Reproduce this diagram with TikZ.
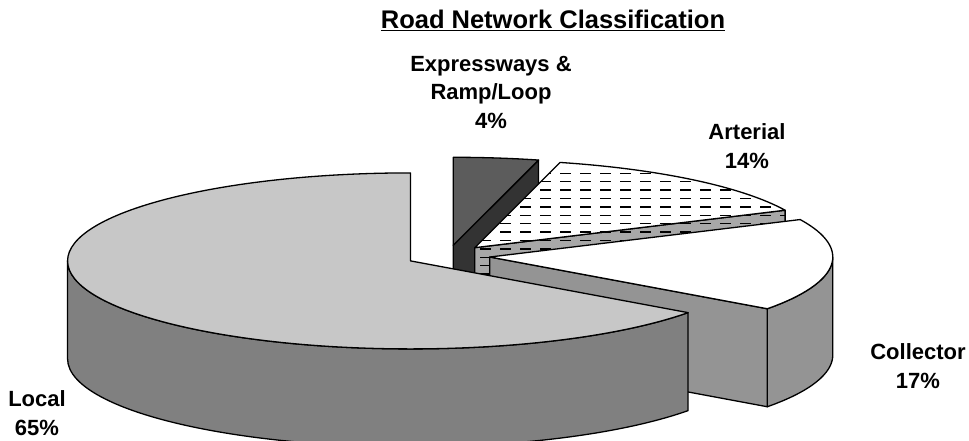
\documentclass[tikz,border=0pt]{standalone}
\usepackage{fontspec}
\setmainfont{Liberation Sans}
\usetikzlibrary{calc}

\definecolor{localtop}{gray}{0.78}
\definecolor{localside}{gray}{0.5}
\definecolor{exptop}{gray}{0.36}
\definecolor{expside}{gray}{0.2}
\definecolor{artside}{gray}{0.66}
\definecolor{colside}{gray}{0.58}

\begin{document}
\begin{tikzpicture}[x=1pt,y=1pt,
    face/.style={draw=black, line width=1.3pt, line join=round},
    dashfill/.style={path picture={
      \foreach \y in {266.7,258.3,...,80}
        \draw[black, line width=1.4pt, dash pattern=on 11pt off 9pt] (300,\y) -- (820,\y);}},
    lbl/.style={align=center, anchor=base, font=\fontsize{22}{28.5}\selectfont\bfseries},
    titlelbl/.style={anchor=base, font=\fontsize{25.5}{30}\selectfont\bfseries}]
  \useasboundingbox (0,0) rectangle (969,440);
  \clip (0,0) rectangle (969,440);

  % centre of the pie and the exploded apex of each slice
  \coordinate (ctr) at (448,184);
  \coordinate (expA) at ($(ctr)+(82.8:42 and 10.8)$);
  \coordinate (artA) at ($(ctr)+(50.4:42 and 10.8)$);
  \coordinate (colA) at ($(ctr)+(-5.4:42 and 10.8)$);
  \coordinate (locA) at ($(ctr)+(207:42 and 10.8)$);

  % expressways & ramp/loop (75.6 to 90)
  \filldraw[face, fill=expside] (expA) -- ($(expA)+(75.6:343 and 88)$) -- ++(0,-98) -- ($(expA)+(0,-98)$) -- cycle;
  \filldraw[face, fill=exptop] (expA) -- ($(expA)+(75.6:343 and 88)$)
    arc[start angle=75.6, end angle=90, x radius=343, y radius=88] -- cycle;

  % arterial (25.2 to 75.6)
  \filldraw[face, fill=artside, dashfill] (artA) -- ($(artA)+(25.2:343 and 88)$) -- ++(0,-98) -- ($(artA)+(0,-98)$) -- cycle;
  \filldraw[face, fill=white, dashfill] (artA) -- ($(artA)+(25.2:343 and 88)$)
    arc[start angle=25.2, end angle=75.6, x radius=343, y radius=88] -- cycle;

  % collector (-36 to 25.2)
  \filldraw[face, fill=colside] ($(colA)+(-36:343 and 88)$)
    arc[start angle=-36, end angle=0, x radius=343, y radius=88] -- ++(0,-98)
    arc[start angle=0, end angle=-36, x radius=343, y radius=88] -- cycle;
  \filldraw[face, fill=colside] (colA) -- ($(colA)+(-36:343 and 88)$) -- ++(0,-98) -- ($(colA)+(0,-98)$) -- cycle;
  \filldraw[face, fill=white] (colA) -- ($(colA)+(-36:343 and 88)$)
    arc[start angle=-36, end angle=25.2, x radius=343, y radius=88] -- cycle;

  % local (90 to 324)
  \filldraw[face, fill=localside] ($(locA)+(180:343 and 88)$)
    arc[start angle=180, end angle=324, x radius=343, y radius=88] -- ++(0,-98)
    arc[start angle=324, end angle=180, x radius=343, y radius=88] -- cycle;
  \filldraw[face, fill=localtop] (locA) -- ($(locA)+(90:343 and 88)$)
    arc[start angle=90, end angle=324, x radius=343, y radius=88] -- cycle;

  % labels (base = last line)
  \node[titlelbl] (title) at (553,411) {\underline{Road Network Classification}};
  \node[lbl] (expLbl) at (491,312) {Expressways \&\\Ramp/Loop\\4\%};
  \node[lbl] (artLbl) at (747,272) {Arterial\\14\%};
  \node[lbl] (colLbl) at (918,52) {Collector\\17\%};
  \node[lbl] (locLbl) at (37,5) {Local\\65\%};
\end{tikzpicture}
\end{document}
